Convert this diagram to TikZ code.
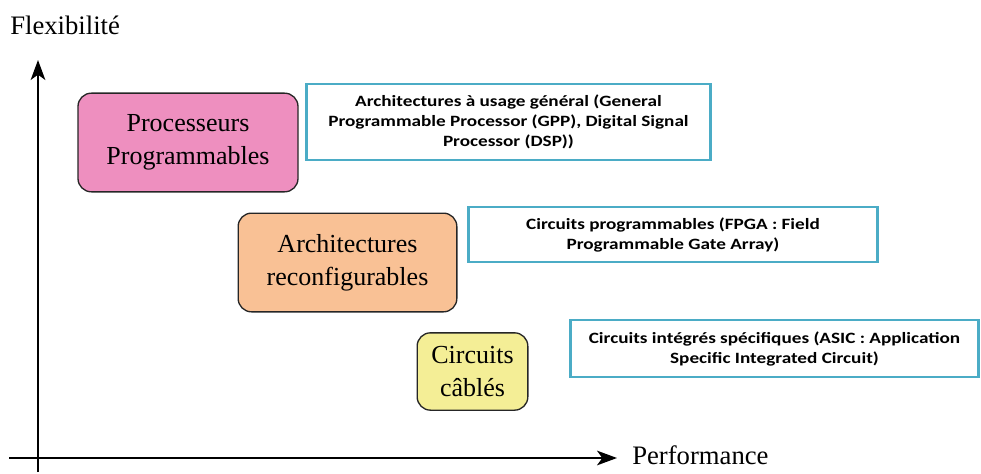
\documentclass[tikz,border=0pt]{standalone}
\usepackage{fontspec}
\setmainfont{Liberation Serif}
\newfontfamily\calibrifont[FakeStretch=1.22]{Carlito}
\usepackage{xcolor}
\usetikzlibrary{arrows.meta,positioning}
\definecolor{procpink}{RGB}{238,143,191}
\definecolor{archorange}{RGB}{249,193,149}
\definecolor{circyellow}{RGB}{244,238,150}
\definecolor{usageblue}{RGB}{75,172,198}

\begin{document}
\begin{tikzpicture}[
    x=0.75pt, y=-0.75pt,
    family/.style={draw=black!85, line width=1pt, rounded corners=10pt, align=center, font=\fontsize{19.5}{24.75}\selectfont},
    usage/.style={draw=usageblue, line width=1.8pt, align=center, font=\calibrifont\bfseries\fontsize{11.8}{15}\selectfont},
    axis/.style={-{Stealth[length=15pt, width=11pt, inset=4pt]}, line width=1.3pt},
    axislabel/.style={anchor=west, inner sep=0pt, font=\fontsize{20}{24}\selectfont}
]
    \useasboundingbox (0,0) rectangle (981,474);
    % axes
    \coordinate (ybot) at (38,472);
    \coordinate (ytop) at (38,60);
    \coordinate (xleft) at (9,458);
    \coordinate (xright) at (617,458);
    \draw[axis] (ybot) -- (ytop);
    \draw[axis] (xleft) -- (xright);
    \node[axislabel] (flex) at (10,25) {Flexibilité};
    \node[axislabel] (perf) at (632,455) {Performance};
    % families
    \node[family, fill=procpink, minimum width=165pt, minimum height=74pt] (proc) at (188,142.5) {Processeurs\\Programmables};
    \node[family, fill=archorange, minimum width=164pt, minimum height=74pt] (arch) at (347.5,262.5) {Architectures\\reconfigurables};
    \node[family, fill=circyellow, minimum width=83pt, minimum height=58pt] (circ) at (472.5,371.5) {Circuits\\câblés};
    % descriptions
    \node[usage, minimum width=303pt, minimum height=57pt] (gpp) at (508.5,122) {Architectures à usage général (General\\Programmable Processor (GPP), Digital Signal\\Processor (DSP))};
    \node[usage, minimum width=307pt, minimum height=41pt] (fpga) at (673,234.5) {Circuits programmables (FPGA : Field\\Programmable Gate Array)};
    \node[usage, minimum width=306pt, minimum height=43pt] (asic) at (774.5,348.5) {Circuits intégrés spécifiques (ASIC : Application\\Specific Integrated Circuit)};
\end{tikzpicture}
\end{document}
